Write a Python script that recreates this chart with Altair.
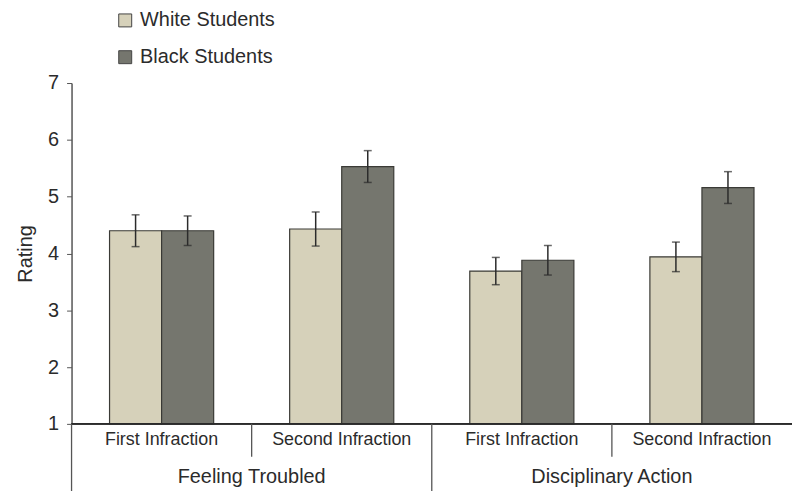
import altair as alt
import pandas as pd

# Conditions in display order
conditions = ["FT1", "FT2", "DA1", "DA2"]
infraction_labels = ["First Infraction", "Second Infraction", "First Infraction", "Second Infraction"]
group_names = ["Feeling Troubled", "Disciplinary Action"]
group_first_cond = ["FT1", "DA1"]
students = ["White Students", "Black Students"]

# Mean ratings and error-bar half-widths
white_mean = [4.40, 4.43, 3.69, 3.94]
white_err = [0.28, 0.30, 0.24, 0.26]
black_mean = [4.40, 5.53, 3.88, 5.16]
black_err = [0.26, 0.28, 0.26, 0.28]

rows = []
for i, c in enumerate(conditions):
    rows.append({"cond": c, "student": students[0], "mean": white_mean[i],
                 "lo": white_mean[i] - white_err[i], "hi": white_mean[i] + white_err[i]})
    rows.append({"cond": c, "student": students[1], "mean": black_mean[i],
                 "lo": black_mean[i] - black_err[i], "hi": black_mean[i] + black_err[i]})
bars_df = pd.DataFrame(rows)
labels_df = pd.DataFrame({"cond": conditions, "label": infraction_labels})
groups_df = pd.DataFrame({"cond": group_first_cond, "label": group_names})

W, H = 725, 343
INK = "#2b2b2b"
NARROW = "'Liberation Sans Narrow', 'Liberation Sans', Arial, sans-serif"
REGULAR = "'Liberation Sans', Arial, sans-serif"

x_scale = alt.Scale(domain=conditions, paddingInner=0, paddingOuter=0)
x_enc = alt.X("cond:N", scale=x_scale, axis=None, sort=conditions)
off_enc = alt.XOffset("student:N", scale=alt.Scale(domain=students, paddingOuter=0.73, paddingInner=0))
y_scale = alt.Scale(domain=[1, 7], zero=False, nice=False)

base = alt.Chart(bars_df)

bars = base.mark_bar(stroke="#3a3a36", strokeWidth=1.2).encode(
    x=x_enc,
    xOffset=off_enc,
    y=alt.Y("mean:Q", scale=y_scale,
            axis=alt.Axis(title="Rating", values=[1, 2, 3, 4, 5, 6, 7], format="d", grid=False,
                          domainColor="#555", domainWidth=1.5, tickColor="#555", tickSize=5,
                          labelPadding=8, labelFontSize=20, labelFont=NARROW, labelColor=INK,
                          titleFont=NARROW, titleFontSize=20, titleFontWeight="normal",
                          titleColor=INK, titlePadding=12)),
    y2=alt.datum(1),
    color=alt.Color("student:N", scale=alt.Scale(domain=students, range=["#d6d1ba", "#75766e"]),
                    legend=alt.Legend(title=None, orient="none", legendX=44, legendY=-73,
                                      symbolType="square", symbolSize=170,
                                      symbolStrokeColor="#444", symbolStrokeWidth=1,
                                      labelFont=REGULAR, labelFontSize=20, labelColor=INK,
                                      rowPadding=17, labelOffset=5)),
)

err = base.mark_rule(color=INK, strokeWidth=1.5).encode(
    x=x_enc, xOffset=off_enc,
    y=alt.Y("lo:Q", scale=y_scale), y2="hi:Q",
)
cap_lo = base.mark_tick(color=INK, thickness=1.5, size=8).encode(
    x=x_enc, xOffset=off_enc, y=alt.Y("lo:Q", scale=y_scale),
)
cap_hi = base.mark_tick(color=INK, thickness=1.5, size=8).encode(
    x=x_enc, xOffset=off_enc, y=alt.Y("hi:Q", scale=y_scale),
)

baseline = alt.Chart(labels_df).mark_rule(color=INK, strokeWidth=1.5).encode(
    x=alt.value(0), x2=alt.value(W), y=alt.datum(1),
)

sub_sep = alt.Chart(labels_df[labels_df.cond.isin(["FT2", "DA2"])]).mark_rule(
    color="#555", strokeWidth=1.3).encode(
    x=alt.X("cond:N", scale=x_scale, axis=None, bandPosition=0),
    y=alt.value(H), y2=alt.value(H + 33),
)
main_sep = alt.Chart(groups_df).mark_rule(color="#555", strokeWidth=1.3).encode(
    x=alt.X("cond:N", scale=x_scale, axis=None, bandPosition=0),
    y=alt.value(H), y2=alt.value(H + 70),
)

inf_text = alt.Chart(labels_df).mark_text(
    font=NARROW, fontSize=18, color=INK, baseline="middle").encode(
    x=alt.X("cond:N", scale=x_scale, axis=None, bandPosition=0.5),
    y=alt.value(H + 16), text="label:N",
)
grp_text = alt.Chart(groups_df).mark_text(
    font=NARROW, fontSize=20, color=INK, baseline="middle").encode(
    x=alt.X("cond:N", scale=x_scale, axis=None, bandPosition=1),
    y=alt.value(H + 53), text="label:N",
)

chart = alt.layer(bars, err, cap_lo, cap_hi, baseline, sub_sep, main_sep, inf_text, grp_text).properties(
    width=W, height=H,
    autosize=alt.AutoSizeParams(type="none"),
    padding={"left": 72, "top": 82, "right": 0, "bottom": 66},
    background="white",
).configure_view(stroke=None)

chart.save("out.html", embed_options={"renderer": "svg", "actions": False})
